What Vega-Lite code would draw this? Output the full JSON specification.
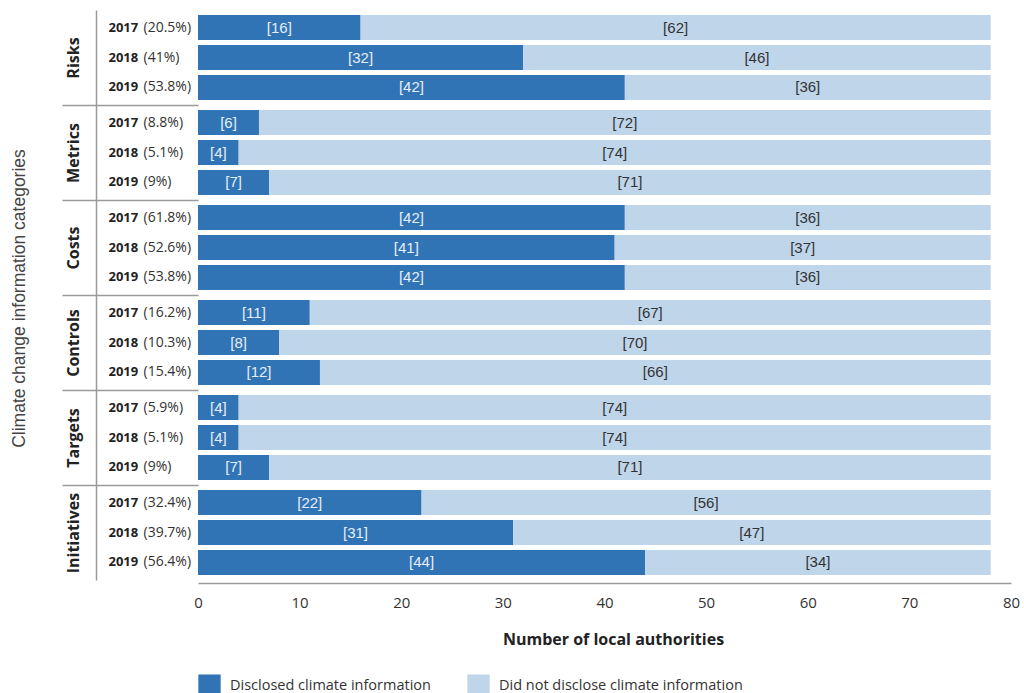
{
  "$schema": "https://vega.github.io/schema/vega-lite/v6.json",
  "padding": {"left": 10, "top": 10, "right": 5, "bottom": 5},
  "background": "white",
  "spacing": 0,
  "bounds": "flush",
  "config": {
    "view": {"stroke": null},
    "font": "Open Sans",
    "legend": {"symbolType": "square", "symbolSize": 500, "symbolStrokeWidth": 0, "labelFontSize": 14.5, "labelFont": "Open Sans", "labelColor": "#333", "columnPadding": 36, "labelOffset": 9, "offset": 27, "labelLimit": 400}
  },
  "data": {"values": [
    {"category": "Risks", "label": "2017 (20.5%)", "Disclosed climate information": 16, "Did not disclose climate information": 62},
    {"category": "Risks", "label": "2018 (41%)", "Disclosed climate information": 32, "Did not disclose climate information": 46},
    {"category": "Risks", "label": "2019 (53.8%)", "Disclosed climate information": 42, "Did not disclose climate information": 36},
    {"category": "Metrics", "label": "2017 (8.8%)", "Disclosed climate information": 6, "Did not disclose climate information": 72},
    {"category": "Metrics", "label": "2018 (5.1%)", "Disclosed climate information": 4, "Did not disclose climate information": 74},
    {"category": "Metrics", "label": "2019 (9%)", "Disclosed climate information": 7, "Did not disclose climate information": 71},
    {"category": "Costs", "label": "2017 (61.8%)", "Disclosed climate information": 42, "Did not disclose climate information": 36},
    {"category": "Costs", "label": "2018 (52.6%)", "Disclosed climate information": 41, "Did not disclose climate information": 37},
    {"category": "Costs", "label": "2019 (53.8%)", "Disclosed climate information": 42, "Did not disclose climate information": 36},
    {"category": "Controls", "label": "2017 (16.2%)", "Disclosed climate information": 11, "Did not disclose climate information": 67},
    {"category": "Controls", "label": "2018 (10.3%)", "Disclosed climate information": 8, "Did not disclose climate information": 70},
    {"category": "Controls", "label": "2019 (15.4%)", "Disclosed climate information": 12, "Did not disclose climate information": 66},
    {"category": "Targets", "label": "2017 (5.9%)", "Disclosed climate information": 4, "Did not disclose climate information": 74},
    {"category": "Targets", "label": "2018 (5.1%)", "Disclosed climate information": 4, "Did not disclose climate information": 74},
    {"category": "Targets", "label": "2019 (9%)", "Disclosed climate information": 7, "Did not disclose climate information": 71},
    {"category": "Initiatives", "label": "2017 (32.4%)", "Disclosed climate information": 22, "Did not disclose climate information": 56},
    {"category": "Initiatives", "label": "2018 (39.7%)", "Disclosed climate information": 31, "Did not disclose climate information": 47},
    {"category": "Initiatives", "label": "2019 (56.4%)", "Disclosed climate information": 44, "Did not disclose climate information": 34}
  ]},
  "transform": [
    {"fold": ["Disclosed climate information", "Did not disclose climate information"], "as": ["status", "count"]},
    {"stack": "count", "groupby": ["category", "label"], "sort": [{"field": "status", "order": "descending"}], "as": ["x0", "x1"]},
    {"calculate": "(datum.x0 + datum.x1) / 2", "as": "mid"},
    {"calculate": "'[' + datum.count + ']'", "as": "txt"}
  ],
  "vconcat": [
    {
      "width": 813, "height": 95,
      "transform": [{"filter": "datum.category === 'Risks'"}],
      "resolve": {"axis": {"y": "independent"}},
      "layer": [
        {"mark": {"type": "bar"}, "encoding": {
          "y": {"field": "label", "type": "nominal", "sort": "ascending", "scale": {"paddingInner": 0.167, "paddingOuter": 0.167},
            "axis": {"orient": "left", "offset": 102, "domain": true, "domainColor": "#9a9a9a", "domainWidth": 1.5, "ticks": false, "labelExpr": "split(datum.label, ' ')[0]", "labelAlign": "left", "labelPadding": -12, "labelFontWeight": "bold", "labelFontSize": 13, "labelColor": "#222", "title": "Risks", "titleX": -23, "titleY": 47.5, "titleAngle": -90, "titleAlign": "center", "titleBaseline": "middle", "titleFontSize": 16, "titleFontWeight": "bold", "titleColor": "#222"}},
          "x": {"field": "x0", "type": "quantitative", "scale": {"domain": [0, 80], "nice": false}, "axis": null},
          "x2": {"field": "x1"},
          "color": {"field": "status", "type": "nominal", "scale": {"domain": ["Disclosed climate information", "Did not disclose climate information"], "range": ["#3174b5", "#bfd5ea"]}, "legend": {"orient": "bottom", "direction": "horizontal", "title": null}}
        }},
        {"transform": [{"filter": "datum.status === 'Disclosed climate information'"}], "mark": {"type": "text", "font": "Liberation Sans", "fontSize": 15, "color": "#e6eef7"}, "encoding": {
          "y": {"field": "label", "type": "nominal", "sort": "ascending", "axis": {"orient": "left", "domain": false, "ticks": false, "labelExpr": "split(datum.label, ' ')[1]", "labelAlign": "left", "labelPadding": 55, "labelFontSize": 14, "labelColor": "#333", "title": null}},
          "x": {"field": "mid", "type": "quantitative", "axis": null},
          "text": {"field": "txt"}
        }},
        {"transform": [{"filter": "datum.status !== 'Disclosed climate information'"}], "mark": {"type": "text", "font": "Liberation Sans", "fontSize": 15, "color": "#333"}, "encoding": {
          "y": {"field": "label", "type": "nominal", "sort": "ascending", "axis": null},
          "x": {"field": "mid", "type": "quantitative", "axis": null},
          "text": {"field": "txt"}
        }}
      ]
    },
    {
      "width": 813, "height": 95,
      "transform": [{"filter": "datum.category === 'Metrics'"}],
      "resolve": {"axis": {"y": "independent"}},
      "layer": [
        {"mark": {"type": "bar"}, "encoding": {
          "y": {"field": "label", "type": "nominal", "sort": "ascending", "scale": {"paddingInner": 0.167, "paddingOuter": 0.167},
            "axis": {"orient": "left", "offset": 102, "domain": true, "domainColor": "#9a9a9a", "domainWidth": 1.5, "ticks": false, "labelExpr": "split(datum.label, ' ')[0]", "labelAlign": "left", "labelPadding": -12, "labelFontWeight": "bold", "labelFontSize": 13, "labelColor": "#222", "title": "Metrics", "titleX": -23, "titleY": 47.5, "titleAngle": -90, "titleAlign": "center", "titleBaseline": "middle", "titleFontSize": 16, "titleFontWeight": "bold", "titleColor": "#222"}},
          "x": {"field": "x0", "type": "quantitative", "scale": {"domain": [0, 80], "nice": false}, "axis": null},
          "x2": {"field": "x1"},
          "color": {"field": "status", "type": "nominal", "scale": {"domain": ["Disclosed climate information", "Did not disclose climate information"], "range": ["#3174b5", "#bfd5ea"]}, "legend": {"orient": "bottom", "direction": "horizontal", "title": null}}
        }},
        {"transform": [{"filter": "datum.status === 'Disclosed climate information'"}], "mark": {"type": "text", "font": "Liberation Sans", "fontSize": 15, "color": "#e6eef7"}, "encoding": {
          "y": {"field": "label", "type": "nominal", "sort": "ascending", "axis": {"orient": "left", "domain": false, "ticks": false, "labelExpr": "split(datum.label, ' ')[1]", "labelAlign": "left", "labelPadding": 55, "labelFontSize": 14, "labelColor": "#333", "title": null}},
          "x": {"field": "mid", "type": "quantitative", "axis": null},
          "text": {"field": "txt"}
        }},
        {"transform": [{"filter": "datum.status !== 'Disclosed climate information'"}], "mark": {"type": "text", "font": "Liberation Sans", "fontSize": 15, "color": "#333"}, "encoding": {
          "y": {"field": "label", "type": "nominal", "sort": "ascending", "axis": {"orient": "left", "domain": false, "labels": false, "ticks": true, "tickSize": 136, "tickWidth": 1.5, "tickColor": "#9a9a9a", "values": ["2017 (8.8%)"], "bandPosition": -0.2, "title": null}},
          "x": {"field": "mid", "type": "quantitative", "axis": null},
          "text": {"field": "txt"}
        }}
      ]
    },
    {
      "width": 813, "height": 95,
      "transform": [{"filter": "datum.category === 'Costs'"}],
      "resolve": {"axis": {"y": "independent"}},
      "layer": [
        {"mark": {"type": "bar"}, "encoding": {
          "y": {"field": "label", "type": "nominal", "sort": "ascending", "scale": {"paddingInner": 0.167, "paddingOuter": 0.167},
            "axis": {"orient": "left", "offset": 102, "domain": true, "domainColor": "#9a9a9a", "domainWidth": 1.5, "ticks": false, "labelExpr": "split(datum.label, ' ')[0]", "labelAlign": "left", "labelPadding": -12, "labelFontWeight": "bold", "labelFontSize": 13, "labelColor": "#222", "title": "Costs", "titleX": -23, "titleY": 47.5, "titleAngle": -90, "titleAlign": "center", "titleBaseline": "middle", "titleFontSize": 16, "titleFontWeight": "bold", "titleColor": "#222"}},
          "x": {"field": "x0", "type": "quantitative", "scale": {"domain": [0, 80], "nice": false}, "axis": null},
          "x2": {"field": "x1"},
          "color": {"field": "status", "type": "nominal", "scale": {"domain": ["Disclosed climate information", "Did not disclose climate information"], "range": ["#3174b5", "#bfd5ea"]}, "legend": {"orient": "bottom", "direction": "horizontal", "title": null}}
        }},
        {"transform": [{"filter": "datum.status === 'Disclosed climate information'"}], "mark": {"type": "text", "font": "Liberation Sans", "fontSize": 15, "color": "#e6eef7"}, "encoding": {
          "y": {"field": "label", "type": "nominal", "sort": "ascending", "axis": {"orient": "left", "domain": false, "ticks": false, "labelExpr": "split(datum.label, ' ')[1]", "labelAlign": "left", "labelPadding": 55, "labelFontSize": 14, "labelColor": "#333", "title": null}},
          "x": {"field": "mid", "type": "quantitative", "axis": null},
          "text": {"field": "txt"}
        }},
        {"transform": [{"filter": "datum.status !== 'Disclosed climate information'"}], "mark": {"type": "text", "font": "Liberation Sans", "fontSize": 15, "color": "#333"}, "encoding": {
          "y": {"field": "label", "type": "nominal", "sort": "ascending", "axis": {"orient": "left", "domain": false, "labels": false, "ticks": true, "tickSize": 136, "tickWidth": 1.5, "tickColor": "#9a9a9a", "values": ["2017 (61.8%)"], "bandPosition": -0.2, "title": "Climate change information categories", "titleX": -179, "titleY": 98, "titleAngle": -90, "titleAlign": "center", "titleBaseline": "middle", "titleFont": "Liberation Sans", "titleFontSize": 17.5, "titleFontWeight": "normal", "titleColor": "#444"}},
          "x": {"field": "mid", "type": "quantitative", "axis": null},
          "text": {"field": "txt"}
        }}
      ]
    },
    {
      "width": 813, "height": 95,
      "transform": [{"filter": "datum.category === 'Controls'"}],
      "resolve": {"axis": {"y": "independent"}},
      "layer": [
        {"mark": {"type": "bar"}, "encoding": {
          "y": {"field": "label", "type": "nominal", "sort": "ascending", "scale": {"paddingInner": 0.167, "paddingOuter": 0.167},
            "axis": {"orient": "left", "offset": 102, "domain": true, "domainColor": "#9a9a9a", "domainWidth": 1.5, "ticks": false, "labelExpr": "split(datum.label, ' ')[0]", "labelAlign": "left", "labelPadding": -12, "labelFontWeight": "bold", "labelFontSize": 13, "labelColor": "#222", "title": "Controls", "titleX": -23, "titleY": 47.5, "titleAngle": -90, "titleAlign": "center", "titleBaseline": "middle", "titleFontSize": 16, "titleFontWeight": "bold", "titleColor": "#222"}},
          "x": {"field": "x0", "type": "quantitative", "scale": {"domain": [0, 80], "nice": false}, "axis": null},
          "x2": {"field": "x1"},
          "color": {"field": "status", "type": "nominal", "scale": {"domain": ["Disclosed climate information", "Did not disclose climate information"], "range": ["#3174b5", "#bfd5ea"]}, "legend": {"orient": "bottom", "direction": "horizontal", "title": null}}
        }},
        {"transform": [{"filter": "datum.status === 'Disclosed climate information'"}], "mark": {"type": "text", "font": "Liberation Sans", "fontSize": 15, "color": "#e6eef7"}, "encoding": {
          "y": {"field": "label", "type": "nominal", "sort": "ascending", "axis": {"orient": "left", "domain": false, "ticks": false, "labelExpr": "split(datum.label, ' ')[1]", "labelAlign": "left", "labelPadding": 55, "labelFontSize": 14, "labelColor": "#333", "title": null}},
          "x": {"field": "mid", "type": "quantitative", "axis": null},
          "text": {"field": "txt"}
        }},
        {"transform": [{"filter": "datum.status !== 'Disclosed climate information'"}], "mark": {"type": "text", "font": "Liberation Sans", "fontSize": 15, "color": "#333"}, "encoding": {
          "y": {"field": "label", "type": "nominal", "sort": "ascending", "axis": {"orient": "left", "domain": false, "labels": false, "ticks": true, "tickSize": 136, "tickWidth": 1.5, "tickColor": "#9a9a9a", "values": ["2017 (16.2%)"], "bandPosition": -0.2, "title": null}},
          "x": {"field": "mid", "type": "quantitative", "axis": null},
          "text": {"field": "txt"}
        }}
      ]
    },
    {
      "width": 813, "height": 95,
      "transform": [{"filter": "datum.category === 'Targets'"}],
      "resolve": {"axis": {"y": "independent"}},
      "layer": [
        {"mark": {"type": "bar"}, "encoding": {
          "y": {"field": "label", "type": "nominal", "sort": "ascending", "scale": {"paddingInner": 0.167, "paddingOuter": 0.167},
            "axis": {"orient": "left", "offset": 102, "domain": true, "domainColor": "#9a9a9a", "domainWidth": 1.5, "ticks": false, "labelExpr": "split(datum.label, ' ')[0]", "labelAlign": "left", "labelPadding": -12, "labelFontWeight": "bold", "labelFontSize": 13, "labelColor": "#222", "title": "Targets", "titleX": -23, "titleY": 47.5, "titleAngle": -90, "titleAlign": "center", "titleBaseline": "middle", "titleFontSize": 16, "titleFontWeight": "bold", "titleColor": "#222"}},
          "x": {"field": "x0", "type": "quantitative", "scale": {"domain": [0, 80], "nice": false}, "axis": null},
          "x2": {"field": "x1"},
          "color": {"field": "status", "type": "nominal", "scale": {"domain": ["Disclosed climate information", "Did not disclose climate information"], "range": ["#3174b5", "#bfd5ea"]}, "legend": {"orient": "bottom", "direction": "horizontal", "title": null}}
        }},
        {"transform": [{"filter": "datum.status === 'Disclosed climate information'"}], "mark": {"type": "text", "font": "Liberation Sans", "fontSize": 15, "color": "#e6eef7"}, "encoding": {
          "y": {"field": "label", "type": "nominal", "sort": "ascending", "axis": {"orient": "left", "domain": false, "ticks": false, "labelExpr": "split(datum.label, ' ')[1]", "labelAlign": "left", "labelPadding": 55, "labelFontSize": 14, "labelColor": "#333", "title": null}},
          "x": {"field": "mid", "type": "quantitative", "axis": null},
          "text": {"field": "txt"}
        }},
        {"transform": [{"filter": "datum.status !== 'Disclosed climate information'"}], "mark": {"type": "text", "font": "Liberation Sans", "fontSize": 15, "color": "#333"}, "encoding": {
          "y": {"field": "label", "type": "nominal", "sort": "ascending", "axis": {"orient": "left", "domain": false, "labels": false, "ticks": true, "tickSize": 136, "tickWidth": 1.5, "tickColor": "#9a9a9a", "values": ["2017 (5.9%)"], "bandPosition": -0.2, "title": null}},
          "x": {"field": "mid", "type": "quantitative", "axis": null},
          "text": {"field": "txt"}
        }}
      ]
    },
    {
      "width": 813, "height": 95,
      "transform": [{"filter": "datum.category === 'Initiatives'"}],
      "resolve": {"axis": {"y": "independent"}},
      "layer": [
        {"mark": {"type": "bar"}, "encoding": {
          "y": {"field": "label", "type": "nominal", "sort": "ascending", "scale": {"paddingInner": 0.167, "paddingOuter": 0.167},
            "axis": {"orient": "left", "offset": 102, "domain": true, "domainColor": "#9a9a9a", "domainWidth": 1.5, "ticks": false, "labelExpr": "split(datum.label, ' ')[0]", "labelAlign": "left", "labelPadding": -12, "labelFontWeight": "bold", "labelFontSize": 13, "labelColor": "#222", "title": "Initiatives", "titleX": -23, "titleY": 47.5, "titleAngle": -90, "titleAlign": "center", "titleBaseline": "middle", "titleFontSize": 16, "titleFontWeight": "bold", "titleColor": "#222"}},
          "x": {"field": "x0", "type": "quantitative", "scale": {"domain": [0, 80], "nice": false},
            "axis": {"orient": "bottom", "offset": 3, "domain": true, "domainColor": "#9a9a9a", "domainWidth": 1.5, "ticks": false, "grid": false, "values": [0, 10, 20, 30, 40, 50, 60, 70, 80], "labelFontSize": 15, "labelColor": "#333", "labelPadding": 12, "labelFlush": false, "title": "Number of local authorities", "titleX": 415, "titleFontSize": 16, "titleFontWeight": "bold", "titleColor": "#222", "titlePadding": 21}},
          "x2": {"field": "x1"},
          "color": {"field": "status", "type": "nominal", "scale": {"domain": ["Disclosed climate information", "Did not disclose climate information"], "range": ["#3174b5", "#bfd5ea"]}, "legend": {"orient": "bottom", "direction": "horizontal", "title": null}}
        }},
        {"transform": [{"filter": "datum.status === 'Disclosed climate information'"}], "mark": {"type": "text", "font": "Liberation Sans", "fontSize": 15, "color": "#e6eef7"}, "encoding": {
          "y": {"field": "label", "type": "nominal", "sort": "ascending", "axis": {"orient": "left", "domain": false, "ticks": false, "labelExpr": "split(datum.label, ' ')[1]", "labelAlign": "left", "labelPadding": 55, "labelFontSize": 14, "labelColor": "#333", "title": null}},
          "x": {"field": "mid", "type": "quantitative",
            "axis": {"orient": "bottom", "offset": 3, "domain": true, "domainColor": "#9a9a9a", "domainWidth": 1.5, "ticks": false, "grid": false, "values": [0, 10, 20, 30, 40, 50, 60, 70, 80], "labelFontSize": 15, "labelColor": "#333", "labelPadding": 12, "labelFlush": false, "title": "Number of local authorities", "titleX": 415, "titleFontSize": 16, "titleFontWeight": "bold", "titleColor": "#222", "titlePadding": 21}},
          "text": {"field": "txt"}
        }},
        {"transform": [{"filter": "datum.status !== 'Disclosed climate information'"}], "mark": {"type": "text", "font": "Liberation Sans", "fontSize": 15, "color": "#333"}, "encoding": {
          "y": {"field": "label", "type": "nominal", "sort": "ascending", "axis": {"orient": "left", "domain": false, "labels": false, "ticks": true, "tickSize": 136, "tickWidth": 1.5, "tickColor": "#9a9a9a", "values": ["2017 (32.4%)"], "bandPosition": -0.2, "title": null}},
          "x": {"field": "mid", "type": "quantitative",
            "axis": {"orient": "bottom", "offset": 3, "domain": true, "domainColor": "#9a9a9a", "domainWidth": 1.5, "ticks": false, "grid": false, "values": [0, 10, 20, 30, 40, 50, 60, 70, 80], "labelFontSize": 15, "labelColor": "#333", "labelPadding": 12, "labelFlush": false, "title": "Number of local authorities", "titleX": 415, "titleFontSize": 16, "titleFontWeight": "bold", "titleColor": "#222", "titlePadding": 21}},
          "text": {"field": "txt"}
        }}
      ]
    }
  ]
}
